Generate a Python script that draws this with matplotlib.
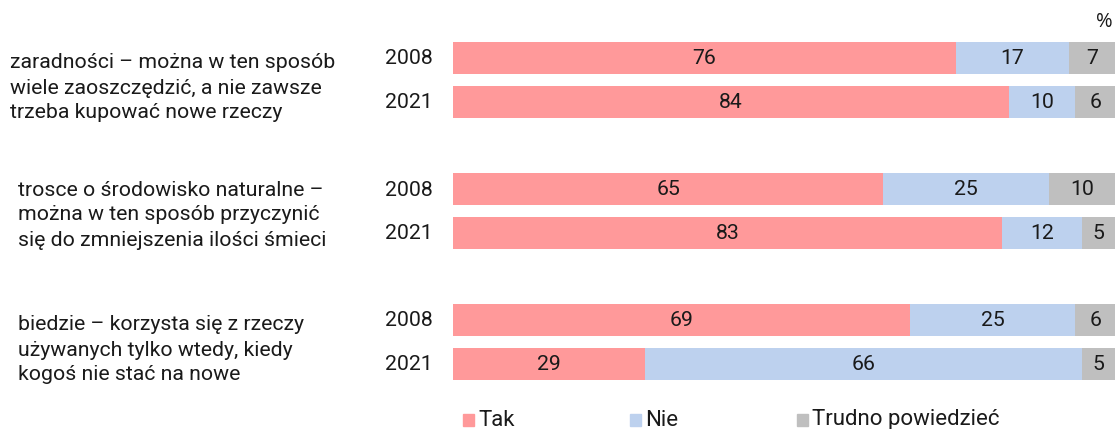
import matplotlib
matplotlib.use("Agg")
import matplotlib.pyplot as plt
from matplotlib.patches import Rectangle

plt.rcParams['font.family'] = ['Roboto', 'DejaVu Sans']

categories = [
    "zaradności – można w ten sposób\nwiele zaoszczędzić, a nie zawsze\ntrzeba kupować nowe rzeczy",
    "trosce o środowisko naturalne –\nmożna w ten sposób przyczynić\nsię do zmniejszenia ilości śmieci",
    "biedzie – korzysta się z rzeczy\nużywanych tylko wtedy, kiedy\nkogoś nie stać na nowe",
]
years = ["2008", "2021"]
tak = [[76, 84], [65, 83], [69, 29]]
nie = [[17, 10], [25, 12], [25, 66]]
trudno = [[7, 6], [10, 5], [6, 5]]
series_names = ["Tak", "Nie", "Trudno powiedzieć"]
colors = ["#FF999A", "#BDD1EE", "#BFBFBF"]

W, H = 1118, 429
fig = plt.figure(figsize=(W / 100, H / 100), dpi=100)

FS = 15.3
TC = '#1a1a1a'

# axes in pixel coords: x 453..1115, y 30..385 (top->bottom)
ax_top, ax_bot = 30, 385
ax = fig.add_axes([453 / W, 1 - ax_bot / H, (1115 - 453) / W, (ax_bot - ax_top) / H])
ax.set_xlim(0, 100)
ax.set_ylim(ax_bot, ax_top)
ax.axis('off')

group_y = [58, 189, 320]
row_gap = 44
bar_h = 32

for g in range(3):
    for j in range(2):
        y = group_y[g] + j * row_gap
        vals = [tak[g][j], nie[g][j], trudno[g][j]]
        left = 0
        for k, v in enumerate(vals):
            ax.barh(y, v, left=left, height=bar_h, color=colors[k], edgecolor='none')
            ax.text(left + v / 2, y + 1, str(v), ha='center', va='center', fontsize=FS, color=TC)
            left += v
        fig.text(433 / W, 1 - (y + 1) / H, years[j], ha='right', va='center', fontsize=FS, color=TC)

cat_x = [10, 18, 18]
cat_y = [88, 215, 350]
for g in range(3):
    fig.text(cat_x[g] / W, 1 - cat_y[g] / H, categories[g], ha='left', va='center',
             fontsize=FS, color=TC, linespacing=1.4)

fig.text(1113 / W, 1 - 22 / H, "%", ha='right', va='center', fontsize=14.5, color=TC,
         family=['Open Sans', 'DejaVu Sans'])

# legend
leg_x = [463, 630, 797]
leg_y = 419
for k in range(3):
    fig.patches.append(Rectangle((leg_x[k] / W, 1 - (leg_y + 7) / H), 11 / W, 12 / H,
                                 transform=fig.transFigure, color=colors[k], figure=fig))
    fig.text((leg_x[k] + 15) / W, 1 - (leg_y + 1) / H, series_names[k], ha='left', va='center',
             fontsize=16, color=TC)

fig.savefig("out.png", dpi=100)
